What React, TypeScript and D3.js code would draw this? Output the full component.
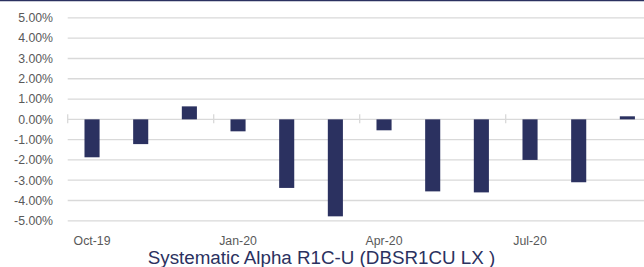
import React from 'react';
import * as d3 from 'd3';

const months = ['Oct-19', 'Nov-19', 'Dec-19', 'Jan-20', 'Feb-20', 'Mar-20', 'Apr-20', 'May-20', 'Jun-20', 'Jul-20', 'Aug-20', 'Sep-20'];
const returns = [-1.87, -1.22, 0.64, -0.59, -3.38, -4.78, -0.54, -3.55, -3.6, -2.0, -3.1, 0.15];
const yTicks = [5, 4, 3, 2, 1, 0, -1, -2, -3, -4, -5];
const labelled = ['Oct-19', 'Jan-20', 'Apr-20', 'Jul-20'];
const title = 'Systematic Alpha R1C-U (DBSR1CU LX )';

const W = 644;
const H = 267;
const navy = '#2b3160';

export default function App() {
  const x = d3.scaleBand<string>().domain(months).range([67.7, 651.7]).paddingInner(0.69).paddingOuter(0.345);
  const y = d3.scaleLinear().domain([-5, 5]).range([220.8, 17.9]);
  const step = x.step();
  const x0 = 67.7;
  const fmt = (v: number) => v.toFixed(2) + '%';

  return (
    <svg width={W} height={H} style={{ position: 'absolute', left: 0, top: 0 }} fontFamily="'Liberation Sans', Arial, sans-serif">
      <rect x={0} y={0} width={W} height={H} fill="#fff" />
      <line x1={0} x2={W} y1={0.5} y2={0.5} stroke={navy} strokeWidth={1.5} />
      {yTicks.map(t => (
        <g key={t}>
          <line x1={x0} x2={W} y1={y(t)} y2={y(t)} stroke="#d9d9d9" strokeWidth={1.3} />
          <text x={53} y={y(t) + 4.3} textAnchor="end" fontSize={12.3} fill="#595959">{fmt(t)}</text>
        </g>
      ))}
      {[0, 3, 6, 9].map(i => (
        <line key={i} x1={x0 + i * step} x2={x0 + i * step} y1={y(0) - 5} y2={y(0) + 4} stroke="#d9d9d9" strokeWidth={1.3} />
      ))}
      {months.map((m, i) => {
        const v = returns[i];
        return (
          <rect key={m} x={x(m)} width={x.bandwidth()} y={Math.min(y(v), y(0))} height={Math.abs(y(v) - y(0))} fill={navy} />
        );
      })}
      {labelled.map(m => (
        <text key={m} x={(x(m) as number) + x.bandwidth() / 2} y={245} textAnchor="middle" fontSize={12.3} fill="#595959">{m}</text>
      ))}
      <text x={321.5} y={263.5} textAnchor="middle" fontSize={18.8} fill={navy}>{title}</text>
    </svg>
  );
}
